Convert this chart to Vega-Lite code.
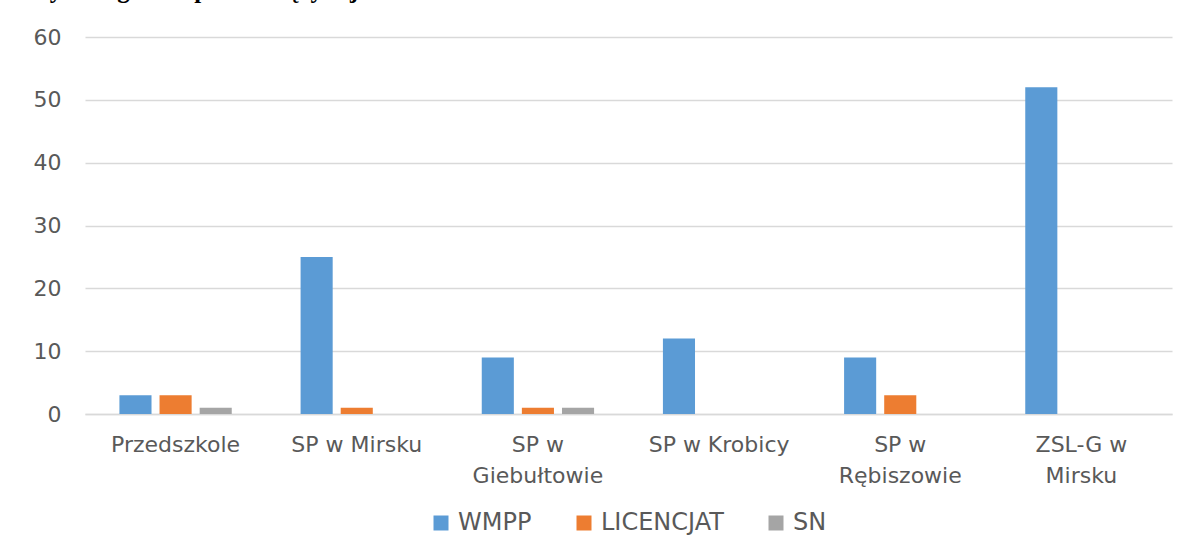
{
  "$schema": "https://vega.github.io/schema/vega-lite/v6.json",
  "width": 1087,
  "height": 377,
  "autosize": "none",
  "padding": {"left": 85, "top": 37, "right": 21, "bottom": 145},
  "background": "white",
  "title": {
    "text": "których organem prowadzącym jest Gmina Mirsk",
    "anchor": "start",
    "frame": "group",
    "font": "Liberation Serif",
    "fontSize": 25,
    "fontWeight": "bold",
    "color": "black",
    "baseline": "alphabetic",
    "offset": 3,
    "dx": -81
  },
  "data": {
    "values": [
      {"szkola": "Przedszkole", "kwalifikacje": "WMPP", "liczba": 3},
      {"szkola": "Przedszkole", "kwalifikacje": "LICENCJAT", "liczba": 3},
      {"szkola": "Przedszkole", "kwalifikacje": "SN", "liczba": 1},
      {"szkola": "SP w Mirsku", "kwalifikacje": "WMPP", "liczba": 25},
      {"szkola": "SP w Mirsku", "kwalifikacje": "LICENCJAT", "liczba": 1},
      {"szkola": "SP w Mirsku", "kwalifikacje": "SN", "liczba": 0},
      {"szkola": "SP w Giebułtowie", "kwalifikacje": "WMPP", "liczba": 9},
      {"szkola": "SP w Giebułtowie", "kwalifikacje": "LICENCJAT", "liczba": 1},
      {"szkola": "SP w Giebułtowie", "kwalifikacje": "SN", "liczba": 1},
      {"szkola": "SP w Krobicy", "kwalifikacje": "WMPP", "liczba": 12},
      {"szkola": "SP w Krobicy", "kwalifikacje": "LICENCJAT", "liczba": 0},
      {"szkola": "SP w Krobicy", "kwalifikacje": "SN", "liczba": 0},
      {"szkola": "SP w Rębiszowie", "kwalifikacje": "WMPP", "liczba": 9},
      {"szkola": "SP w Rębiszowie", "kwalifikacje": "LICENCJAT", "liczba": 3},
      {"szkola": "SP w Rębiszowie", "kwalifikacje": "SN", "liczba": 0},
      {"szkola": "ZSL-G w Mirsku", "kwalifikacje": "WMPP", "liczba": 52},
      {"szkola": "ZSL-G w Mirsku", "kwalifikacje": "LICENCJAT", "liczba": 0},
      {"szkola": "ZSL-G w Mirsku", "kwalifikacje": "SN", "liczba": 0}
    ]
  },
  "mark": {"type": "bar"},
  "encoding": {
    "x": {
      "field": "szkola",
      "type": "nominal",
      "sort": null,
      "title": null,
      "scale": {"paddingInner": 0.38, "paddingOuter": 0.19},
      "axis": {
        "labelAngle": 0,
        "labelFont": "DejaVu Sans",
        "labelFontSize": 22,
        "labelColor": "#595959",
        "labelPadding": 20,
        "labelLineHeight": 31,
        "labelExpr": "datum.label == 'SP w Giebułtowie' ? ['SP w', 'Giebułtowie'] : datum.label == 'SP w Rębiszowie' ? ['SP w', 'Rębiszowie'] : datum.label == 'ZSL-G w Mirsku' ? ['ZSL-G w', 'Mirsku'] : datum.label",
        "ticks": false,
        "domainColor": "#D9D9D9",
        "domainWidth": 1.5,
        "grid": false
      }
    },
    "xOffset": {
      "field": "kwalifikacje",
      "type": "nominal",
      "sort": ["WMPP", "LICENCJAT", "SN"],
      "scale": {"paddingInner": 0.2}
    },
    "y": {
      "field": "liczba",
      "type": "quantitative",
      "title": null,
      "scale": {"domain": [0, 60]},
      "axis": {
        "values": [0, 10, 20, 30, 40, 50, 60],
        "labelFont": "DejaVu Sans",
        "labelFontSize": 22,
        "labelColor": "#595959",
        "labelPadding": 24,
        "ticks": false,
        "domain": false,
        "gridColor": "#D9D9D9",
        "gridWidth": 1.5
      }
    },
    "color": {
      "field": "kwalifikacje",
      "type": "nominal",
      "sort": ["WMPP", "LICENCJAT", "SN"],
      "title": null,
      "scale": {"domain": ["WMPP", "LICENCJAT", "SN"], "range": ["#5B9BD5", "#ED7D31", "#A5A5A5"]},
      "legend": {
        "orient": "none",
        "legendX": 344,
        "legendY": 474,
        "direction": "horizontal",
        "symbolType": "square",
        "symbolSize": 225,
        "symbolStrokeWidth": 0,
        "labelFont": "DejaVu Sans",
        "labelFontSize": 24,
        "labelColor": "#595959",
        "labelOffset": 5,
        "columnPadding": 40
      }
    }
  },
  "config": {
    "view": {"stroke": null}
  }
}
